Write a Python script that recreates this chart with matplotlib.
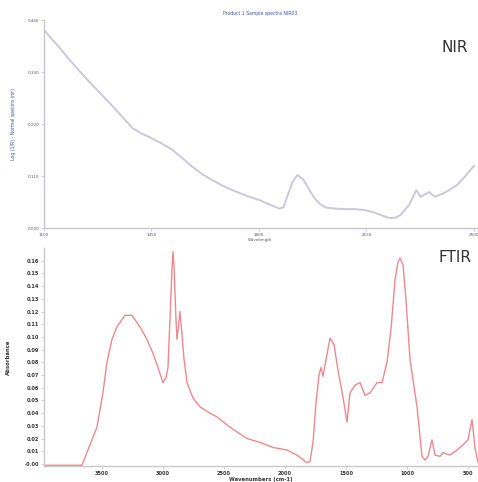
import numpy as np
import matplotlib
matplotlib.use('Agg')
import matplotlib.pyplot as plt

# Espectro NIR (longitud de onda en nm, log(1/R))
nir_wl = [1100, 1125, 1150, 1175, 1210, 1245, 1282, 1320, 1355, 1389,
          1420, 1444, 1480, 1519, 1550, 1584, 1615, 1649, 1680, 1714,
          1760, 1802, 1840, 1867, 1880, 1893, 1909, 1925, 1944, 1962,
          1980, 2000, 2019, 2050, 2078, 2110, 2143, 2170, 2191, 2215,
          2230, 2245, 2260, 2289, 2312, 2327, 2354, 2373, 2400, 2419,
          2445, 2467, 2490, 2500]
nir_val = [0.419, 0.400, 0.382, 0.362, 0.336, 0.311, 0.286, 0.260, 0.235, 0.211,
           0.199, 0.192, 0.180, 0.165, 0.148, 0.129, 0.114, 0.101, 0.090, 0.080,
           0.068, 0.059, 0.048, 0.041, 0.044, 0.068, 0.097, 0.112, 0.103, 0.083,
           0.064, 0.050, 0.043, 0.041, 0.040, 0.040, 0.038, 0.034, 0.029, 0.023,
           0.021, 0.022, 0.027, 0.049, 0.080, 0.066, 0.076, 0.066, 0.073, 0.080,
           0.091, 0.106, 0.124, 0.131]
nir_yticks = [0.000, 0.110, 0.220, 0.330, 0.440]
nir_xticks = [1100, 1450, 1800, 2150, 2500]

# Espectro FTIR (número de onda en cm-1, absorbancia)
ftir_wn = [3975, 3664, 3615, 3541, 3492, 3459, 3418, 3377, 3311, 3254,
           3189, 3131, 3082, 3041, 3000, 2975, 2959, 2943, 2926, 2918,
           2910, 2893, 2885, 2869, 2861, 2844, 2828, 2803, 2754, 2697,
           2615, 2557, 2451, 2311, 2205, 2098, 1984, 1902, 1820, 1795,
           1770, 1746, 1721, 1705, 1689, 1664, 1631, 1598, 1566, 1525,
           1492, 1467, 1426, 1385, 1344, 1303, 1246, 1205, 1164, 1131,
           1098, 1074, 1057, 1033, 1008, 975, 918, 877, 852, 828,
           795, 770, 729, 705, 648, 590, 541, 500, 467, 443, 418]
ftir_abs = [-0.001, -0.001, 0.011, 0.029, 0.056, 0.080, 0.098, 0.108, 0.117, 0.117,
            0.108, 0.098, 0.087, 0.076, 0.064, 0.068, 0.076, 0.113, 0.153, 0.167,
            0.157, 0.113, 0.098, 0.112, 0.120, 0.102, 0.083, 0.064, 0.052, 0.045,
            0.040, 0.037, 0.029, 0.020, 0.017, 0.013, 0.011, 0.007, 0.001, 0.002,
            0.017, 0.048, 0.070, 0.076, 0.069, 0.082, 0.099, 0.094, 0.074, 0.053,
            0.033, 0.056, 0.062, 0.064, 0.054, 0.056, 0.064, 0.064, 0.080, 0.106,
            0.145, 0.159, 0.162, 0.157, 0.129, 0.082, 0.045, 0.006, 0.003, 0.006,
            0.019, 0.007, 0.006, 0.009, 0.007, 0.011, 0.015, 0.019, 0.035, 0.013, 0.001]
ftir_yticks = [round(0.01 * i, 2) for i in range(17)]
ftir_yticklabels = ['-0.00'] + ['%.2f' % t for t in ftir_yticks[1:]]
ftir_xticks = [3500, 3000, 2500, 2000, 1500, 1000, 500]

W, H = 478, 482
fig = plt.figure(figsize=(W / 100, H / 100), dpi=100)
fig.patch.set_facecolor('white')

# ---------- Panel NIR ----------
ax1 = fig.add_axes([44 / W, 1 - 228 / H, 433 / W, 208 / H])
ax1.plot(nir_wl, nir_val, color='#c9c9d9', linewidth=1.4)
ax1.set_xlim(1100, 2510)
ax1.set_ylim(0, 0.44)

for s in ['top', 'right']:
    ax1.spines[s].set_visible(False)
for s in ['left', 'bottom']:
    ax1.spines[s].set_color('#c4c4d4')
    ax1.spines[s].set_linewidth(1.0)

ax1.set_yticks(nir_yticks)
ax1.set_yticklabels(['%.3f' % t for t in nir_yticks])
ax1.set_xticks(nir_xticks)
ax1.set_xticklabels([str(t) for t in nir_xticks])
ax1.tick_params(axis='both', labelsize=3, colors='#c4c4d4', labelcolor='#555570',
                length=2, width=0.6, pad=1.5)

ax1.set_ylabel('Log (1/R) - Normal spectra (nir)', fontsize=3.3, color='#4050b0', labelpad=8)
ax1.set_xlabel('Wavelength', fontsize=3, color='#555570', labelpad=0.5)
fig.text(260 / W, 1 - 14 / H, 'Product 1 Sample spectra NIR03', fontsize=3.3,
         color='#4050b0', ha='center', va='center')
fig.text(455 / W, 1 - 48 / H, 'NIR', fontsize=11, color='#333333', ha='center', va='center')

# ---------- Panel FTIR ----------
ax2 = fig.add_axes([44 / W, 1 - 466 / H, 434 / W, 218 / H])
ax2.plot(ftir_wn, ftir_abs, color='#ee8890', linewidth=1.0)
ax2.set_xlim(3975, 418)
ax2.set_ylim(-0.0016, 0.17)

for s in ['top', 'right']:
    ax2.spines[s].set_visible(False)
for s in ['left', 'bottom']:
    ax2.spines[s].set_color('#c8c8c8')
    ax2.spines[s].set_linewidth(1.0)

ax2.set_yticks(ftir_yticks)
ax2.set_yticklabels(ftir_yticklabels, fontweight='bold')
ax2.set_xticks(ftir_xticks)
ax2.set_xticklabels([str(t) for t in ftir_xticks], fontweight='bold')
ax2.tick_params(axis='both', labelsize=3.6, colors='#c8c8c8', labelcolor='#333333',
                length=2, width=0.6, pad=1.5)

ax2.set_ylabel('Absorbance', fontsize=3.8, fontweight='bold', color='#333333', labelpad=10)
ax2.set_xlabel('Wavenumbers (cm-1)', fontsize=3.8, fontweight='bold', color='#333333',
               labelpad=1)
fig.text(455 / W, 1 - 258 / H, 'FTIR', fontsize=11, color='#333333', ha='center', va='center')

plt.savefig('out.png', dpi=100, facecolor='white')
